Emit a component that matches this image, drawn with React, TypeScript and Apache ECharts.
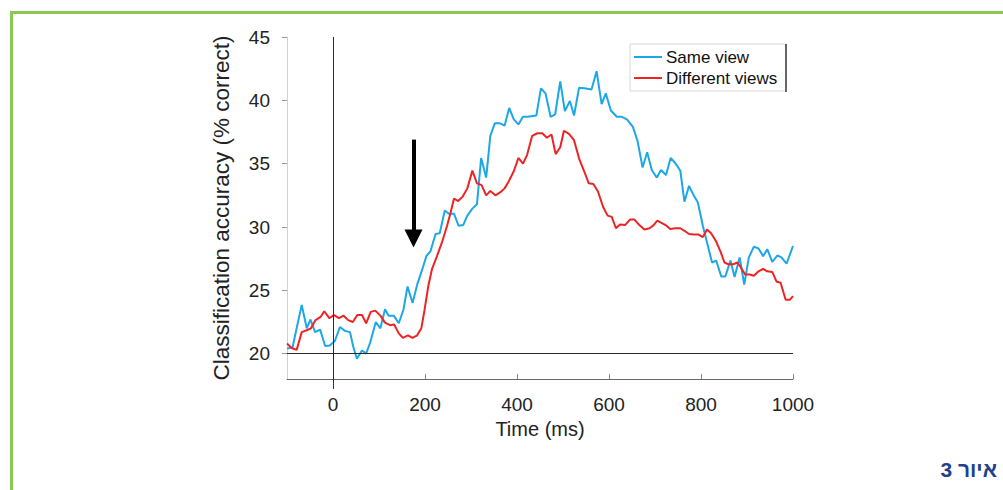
import React, { useEffect, useRef } from "react";
import * as echarts from "echarts";

const xTicks = [0, 200, 400, 600, 800, 1000];
const yTicks = [20, 25, 30, 35, 40, 45];

const sameTimes = [-100, -88, -68, -57, -49, -39, -28, -17, -7, 4, 15, 26, 37, 44, 52, 63, 72, 81, 93, 103, 113, 121, 132, 143, 153, 162, 173, 183, 194, 203, 212, 223, 232, 243, 252, 263, 273, 283, 292, 303, 313, 322, 333, 342, 352, 362, 373, 383, 393, 403, 413, 423, 431, 442, 452, 462, 473, 483, 494, 504, 515, 524, 535, 547, 562, 573, 584, 593, 604, 617, 628, 639, 652, 662, 673, 683, 693, 704, 713, 724, 734, 744, 755, 764, 774, 784, 793, 804, 815, 824, 833, 844, 853, 864, 873, 884, 894, 904, 915, 925, 935, 944, 955, 966, 975, 986, 995, 1000];
const sameVals = [20.4, 20.5, 23.85, 22.0, 22.7, 21.7, 21.9, 20.6, 20.65, 21.0, 22.1, 21.8, 21.7, 20.55, 19.6, 20.25, 20.0, 20.9, 22.5, 22.0, 23.5, 23.0, 23.0, 22.4, 23.45, 25.3, 24.0, 25.45, 26.65, 27.7, 28.1, 29.45, 29.5, 31.3, 31.05, 31.05, 30.1, 30.15, 30.9, 31.45, 31.8, 35.45, 33.9, 37.2, 38.2, 38.2, 38.0, 39.4, 38.5, 38.1, 38.7, 38.7, 38.75, 38.8, 40.95, 40.55, 38.7, 38.9, 41.5, 39.15, 39.95, 38.8, 41.0, 40.95, 40.85, 42.3, 39.7, 40.55, 39.2, 38.7, 38.7, 38.5, 37.9, 36.8, 34.7, 35.9, 34.5, 33.9, 34.5, 34.1, 35.45, 35.05, 34.45, 32.0, 33.25, 32.5, 31.95, 30.1, 28.5, 27.2, 27.35, 26.1, 26.1, 27.35, 26.05, 27.6, 25.45, 27.6, 28.45, 28.3, 27.7, 28.25, 27.25, 27.75, 27.6, 27.1, 28.0, 28.5];

const diffTimes = [-100, -90, -79, -68, -57, -48, -38, -27, -19, -8, 2, 13, 23, 33, 43, 53, 63, 72, 82, 92, 103, 113, 124, 133, 143, 152, 163, 173, 183, 192, 199, 207, 215, 226, 237, 248, 255, 263, 272, 282, 292, 303, 313, 323, 333, 342, 353, 364, 373, 382, 393, 403, 413, 422, 433, 444, 455, 465, 475, 484, 494, 502, 513, 524, 535, 546, 556, 566, 576, 587, 597, 606, 615, 624, 635, 646, 655, 666, 677, 688, 697, 705, 713, 723, 733, 744, 755, 764, 774, 785, 795, 804, 813, 822, 833, 842, 851, 860, 870, 879, 886, 896, 906, 915, 925, 935, 944, 955, 964, 973, 984, 993, 1000];
const diffVals = [20.8, 20.45, 20.3, 21.7, 21.85, 22.0, 22.65, 22.9, 23.35, 22.8, 23.05, 22.8, 23.0, 22.65, 22.5, 23.05, 23.05, 22.4, 23.3, 23.4, 23.0, 22.45, 22.25, 22.3, 21.6, 21.25, 21.45, 21.25, 21.45, 22.0, 23.45, 25.3, 26.65, 27.7, 28.8, 30.1, 31.05, 32.25, 32.05, 32.4, 33.05, 34.45, 33.45, 33.3, 32.5, 32.85, 32.5, 32.75, 33.05, 33.6, 34.4, 35.45, 35.0, 35.7, 37.2, 37.4, 37.4, 37.05, 37.3, 35.75, 36.3, 37.6, 37.35, 36.85, 35.4, 34.4, 33.45, 33.4, 32.8, 31.6, 30.9, 30.8, 29.9, 30.2, 30.15, 30.6, 30.6, 30.15, 29.8, 29.9, 30.15, 30.5, 30.35, 30.15, 29.85, 29.9, 29.9, 29.7, 29.45, 29.4, 29.4, 29.2, 29.8, 29.5, 28.85, 28.1, 27.2, 27.05, 27.05, 27.2, 26.85, 26.25, 26.25, 26.15, 26.5, 26.7, 26.5, 26.45, 25.7, 25.6, 24.25, 24.25, 24.55];

const chanceLevel = 20;
const onsetTime = 0;
const arrowTime = 175;
const arrowTop = 36.9;
const arrowShaftEnd = 29.6;
const arrowHead = 29.1;

const FONT = "Liberation Sans, Arial, Helvetica, sans-serif";

export default function App() {
  const ref = useRef<HTMLDivElement>(null);
  useEffect(() => {
    if (!ref.current) return;
    const chart = echarts.init(ref.current, undefined, { renderer: "svg" });
    chart.setOption({
      animation: false,
      backgroundColor: "#ffffff",
      textStyle: { fontFamily: FONT },
      grid: { left: 287, right: 210, top: 37, bottom: 111, containLabel: false },
      legend: {
        orient: "vertical",
        left: 630,
        top: 44,
        padding: [4, 9, 4, 4],
        itemGap: 3,
        itemWidth: 28,
        itemHeight: 2,
        icon: "rect",
        borderColor: "#d8d8d8",
        borderWidth: 1,
        backgroundColor: "#fff",
        textStyle: { fontSize: 17, lineHeight: 18, color: "#111", fontFamily: FONT, padding: [0, 0, 0, -1] },
        data: ["Same view", "Different views"],
      },
      xAxis: [
        {
          type: "value",
          min: -100,
          max: 1000,
          name: "Time (ms)",
          nameLocation: "middle",
          nameGap: 39,
          nameTextStyle: { fontSize: 20, color: "#222", fontFamily: FONT },
          axisLine: { show: true, onZero: false, lineStyle: { color: "#666", width: 1 } },
          axisTick: { show: true, inside: true, length: 5, customValues: xTicks, lineStyle: { color: "#888" } },
          axisLabel: {
            customValues: xTicks,
            fontSize: 19,
            color: "#222",
            margin: 16,
            fontFamily: FONT,
            formatter: (v: number) => String(v),
          },
          splitLine: { show: false },
        },
        {
          type: "value",
          min: -100,
          max: 1000,
          position: "bottom",
          axisLine: { show: false },
          axisTick: { show: true, inside: false, length: 10, customValues: [onsetTime], lineStyle: { color: "#333" } },
          axisLabel: { show: false },
          splitLine: { show: false },
        },
      ],
      yAxis: {
        type: "value",
        min: 18,
        max: 45,
        name: "Classification accuracy (% correct)",
        nameLocation: "middle",
        nameGap: 54,
        nameTextStyle: { fontSize: 22.5, color: "#222", fontFamily: FONT },
        axisLine: { show: true, onZero: false, lineStyle: { color: "#d0d0d0", width: 1 } },
        axisTick: { show: true, inside: false, length: 5, customValues: yTicks, lineStyle: { color: "#999" } },
        axisLabel: { customValues: yTicks, fontSize: 19, color: "#222", margin: 17, fontFamily: FONT },
        splitLine: { show: false },
      },
      series: [
        {
          name: "Same view",
          type: "line",
          symbol: "none",
          data: sameTimes.map((t, i) => [t, sameVals[i]]),
          lineStyle: { color: "#1ea7e6", width: 2 },
          itemStyle: { color: "#1ea7e6" },
          z: 3,
          markLine: {
            silent: true,
            symbol: ["none", "none"],
            label: { show: false },
            animation: false,
            data: [
              [
                { coord: [arrowTime, arrowTop], lineStyle: { color: "#000", width: 4, type: "solid" } },
                { coord: [arrowTime, arrowShaftEnd] },
              ],
            ],
          },
          markPoint: {
            silent: true,
            symbol: "triangle",
            symbolSize: [18, 18],
            symbolRotate: 180,
            label: { show: false },
            itemStyle: { color: "#000" },
            data: [{ coord: [arrowTime, arrowHead] }],
          },
        },
        {
          name: "Different views",
          type: "line",
          symbol: "none",
          data: diffTimes.map((t, i) => [t, diffVals[i]]),
          lineStyle: { color: "#ee2424", width: 2 },
          itemStyle: { color: "#ee2424" },
          z: 4,
          markLine: {
            silent: true,
            symbol: ["none", "none"],
            label: { show: false },
            animation: false,
            lineStyle: { color: "#2a2a2a", width: 1, type: "solid" },
            data: [{ yAxis: chanceLevel }, { xAxis: onsetTime }],
          },
        },
      ],
      graphic: [
        { type: "rect", shape: { x: 10, y: 11, width: 3, height: 479 }, style: { fill: "#8cc653" }, silent: true },
        { type: "rect", shape: { x: 10, y: 11, width: 993, height: 3 }, style: { fill: "#8cc653" }, silent: true },
        { type: "rect", shape: { x: 785, y: 44, width: 2, height: 48 }, style: { fill: "#666" }, silent: true, z: 100 },
        {
          type: "text",
          right: 6,
          top: 459,
          style: { text: "איור 3", font: "bold 21px Liberation Sans, Arial, sans-serif", fill: "#1f3f8f" },
          silent: true,
        },
      ],
    });
    return () => chart.dispose();
  }, []);
  return <div ref={ref} style={{ position: "fixed", left: 0, top: 0, width: 1003, height: 490 }} />;
}
